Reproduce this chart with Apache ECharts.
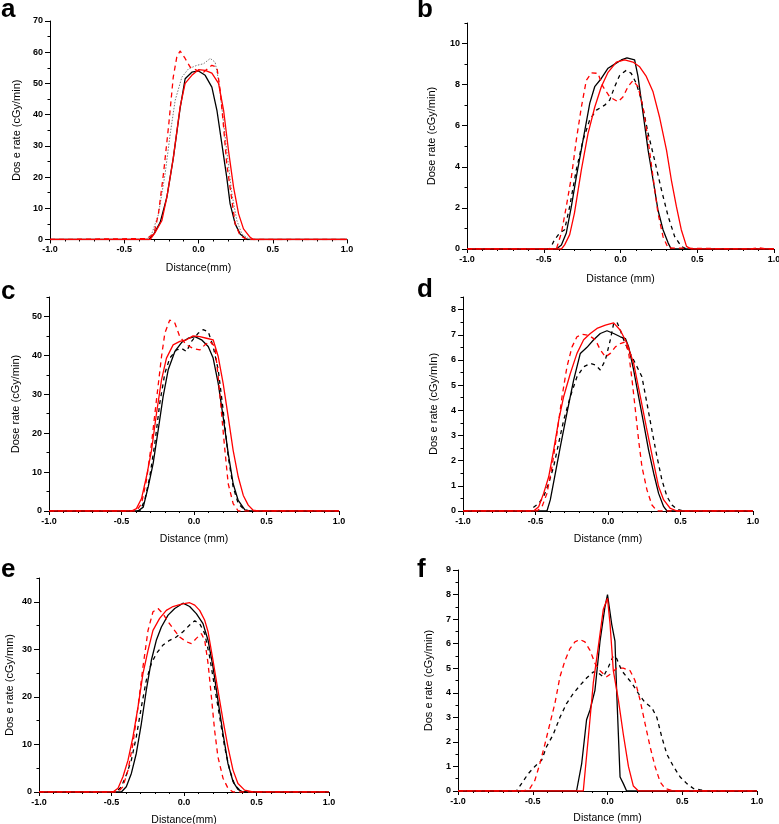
<!DOCTYPE html>
<html>
<head>
<meta charset="utf-8">
<title>Dose rate profiles</title>
<script src="https://cdn.jsdelivr.net/npm/echarts@6/dist/echarts.min.js"></script>
<style>
  html, body { margin: 0; padding: 0; background: #fff; }
  #chart { width: 779px; height: 824px; }
</style>
</head>
<body>
<div id="chart"></div>
<script>
// panel texts
var panelNames = ['a', 'b', 'c', 'd', 'e', 'f']
var xTitles = ['Distance(mm)', 'Distance (mm)', 'Distance (mm)', 'Distance (mm)', 'Distance(mm)', 'Distance (mm)']
var yTitles = ['Dos e rate (cGy/min)', 'Dose rate (cGy/min)', 'Dose rate (cGy/min)', 'Dos e rate (cGy/mIn)', 'Dos e rate (cGy/mm)', 'Dos e rate (cGy/min)']

// y axis ranges and tick steps
var yMaxes = [70, 11, 55, 8.5, 45, 9]
var yMajorSteps = [10, 2, 10, 1, 10, 1]
var yMinorSteps = [5, 1, 5, 0.5, 5, 0.5]

// x axis: -1.0 .. 1.0
var xMin = -1
var xMax = 1
var xMajorStep = 0.5

// ---- panel a ----
var aBlack = [[-1,0],[-0.333,0],[-0.3,1.8],[-0.258,5.5],[-0.213,13.6],[-0.17,26],[-0.124,42],[-0.09,51.5],[-0.045,53.6],[0,54],[0.045,52.6],[0.09,48.8],[0.124,41.4],[0.157,30.7],[0.19,20],[0.213,11.4],[0.247,5],[0.28,1.8],[0.326,0],[1,0]]
var aGrey = [[-1,0],[-0.35,0],[-0.315,1.8],[-0.27,8],[-0.225,21],[-0.19,34],[-0.157,44.6],[-0.112,52],[-0.067,54.7],[-0.011,55.8],[0.034,56.3],[0.079,58],[0.112,56.8],[0.135,51],[0.157,42.4],[0.19,28.5],[0.225,14.6],[0.258,6.1],[0.292,1.8],[0.337,0.2],[0.36,0],[1,0]]
var aRed = [[-1,0],[-0.326,0],[-0.29,2.4],[-0.247,6],[-0.213,13.6],[-0.17,26],[-0.124,42.4],[-0.09,50],[-0.045,52.6],[0,54.4],[0.045,54.2],[0.09,53.3],[0.135,50],[0.169,41.4],[0.202,28.5],[0.236,16.8],[0.27,8.2],[0.303,3.4],[0.348,0.7],[0.37,0],[1,0]]
var aRedDash = [[-1,0],[-0.348,0.3],[-0.3,1.8],[-0.27,8.2],[-0.236,21],[-0.2,37],[-0.17,52],[-0.146,58.5],[-0.124,60.4],[-0.09,58],[-0.056,55.2],[-0.011,54.2],[0.034,53.6],[0.09,55.8],[0.124,55.2],[0.146,47.8],[0.169,36],[0.19,24.3],[0.225,12.5],[0.247,5],[0.28,1.3],[0.326,0],[1,0]]

// ---- panel b ----
var bBlack = [[-1,0],[-0.418,0],[-0.385,0.2],[-0.353,0.78],[-0.32,2.07],[-0.288,3.5],[-0.244,5.3],[-0.2,7.1],[-0.168,7.9],[-0.125,8.3],[-0.081,8.8],[-0.038,9.0],[0.005,9.2],[0.042,9.3],[0.092,9.2],[0.114,8.4],[0.147,6.6],[0.18,4.8],[0.212,3.37],[0.244,1.9],[0.277,0.94],[0.31,0.3],[0.33,0],[1,0]]
var bBlackDash = [[-1,0],[-0.46,0],[-0.43,0.45],[-0.396,0.78],[-0.364,0.94],[-0.331,2.07],[-0.288,3.85],[-0.244,5.3],[-0.2,6.3],[-0.157,6.76],[-0.103,7.0],[-0.07,7.25],[-0.038,7.9],[-0.005,8.46],[0.038,8.7],[0.07,8.55],[0.103,8.06],[0.136,7.25],[0.18,5.63],[0.223,4.3],[0.266,2.9],[0.31,1.6],[0.353,0.6],[0.396,0.13],[0.43,0],[1,0]]
var bRed = [[-1,0],[-0.385,0],[-0.364,0.2],[-0.331,0.7],[-0.3,1.75],[-0.255,3.85],[-0.212,5.6],[-0.168,6.9],[-0.125,7.9],[-0.081,8.6],[-0.027,9.1],[0.027,9.2],[0.081,9.1],[0.125,8.87],[0.168,8.4],[0.212,7.65],[0.255,6.4],[0.3,4.8],[0.331,3.37],[0.364,2.07],[0.396,0.94],[0.43,0.13],[0.46,0],[1,0]]
var bRedDash = [[-1,0],[-0.418,0],[-0.385,0.78],[-0.353,2.07],[-0.32,3.5],[-0.288,5.3],[-0.255,6.9],[-0.223,8.2],[-0.19,8.57],[-0.147,8.55],[-0.114,7.9],[-0.07,7.4],[-0.016,7.17],[0.016,7.4],[0.049,7.9],[0.081,8.2],[0.114,7.9],[0.147,6.9],[0.18,5.3],[0.212,3.5],[0.244,1.75],[0.277,0.6],[0.31,0.05],[0.85,0],[0.9,0.06],[0.95,0],[1,0]]

// ---- panel c ----
var cBlack = [[-1,0],[-0.386,0],[-0.35,1],[-0.316,6.2],[-0.282,12.2],[-0.247,20.8],[-0.213,29.4],[-0.178,36.3],[-0.132,41],[-0.086,43.3],[-0.04,44.4],[0.006,44.8],[0.052,44],[0.098,42.3],[0.132,39.3],[0.167,32.8],[0.201,24.2],[0.236,14.8],[0.27,7],[0.305,2.7],[0.351,0.3],[0.385,0],[1,0]]
var cBlackDash = [[-1,0],[-0.374,0],[-0.34,2.7],[-0.305,8.8],[-0.27,17.4],[-0.236,27.7],[-0.201,35.4],[-0.167,39.3],[-0.121,41.4],[-0.086,41.8],[-0.052,41],[-0.017,43.6],[0.029,45.7],[0.063,46.6],[0.098,46.1],[0.132,42.3],[0.167,36.3],[0.201,26],[0.236,13.9],[0.27,6.2],[0.305,1.9],[0.351,0.2],[0.385,0],[1,0]]
var cRed = [[-1,0],[-0.431,0],[-0.397,0.6],[-0.362,3.2],[-0.328,8.8],[-0.293,15.6],[-0.259,25],[-0.224,33.7],[-0.19,39.3],[-0.144,42.7],[-0.098,43.6],[-0.052,44],[-0.006,45],[0.04,44.8],[0.086,44.4],[0.132,44],[0.167,39.7],[0.201,32.8],[0.236,24.2],[0.27,15.6],[0.305,8.8],[0.34,4],[0.374,1.5],[0.408,0.2],[0.443,0],[1,0]]
var cRedDash = [[-1,0],[-0.397,0],[-0.362,1.9],[-0.328,7.9],[-0.293,17.4],[-0.259,28.5],[-0.224,39.7],[-0.201,45.7],[-0.167,49.1],[-0.132,48.3],[-0.098,44.8],[-0.052,42.7],[-0.006,41.8],[0.04,41.4],[0.075,42.7],[0.109,43.6],[0.144,42.3],[0.167,34.5],[0.19,25],[0.213,15.6],[0.236,7],[0.27,1.9],[0.305,0],[1,0]]

// ---- panel d ----
var dBlack = [[-1,0],[-0.421,0],[-0.398,0.44],[-0.363,1.5],[-0.329,2.55],[-0.283,3.9],[-0.237,5.2],[-0.191,6.26],[-0.145,6.5],[-0.099,6.8],[-0.053,7.05],[-0.007,7.16],[0.039,7.05],[0.085,6.92],[0.12,6.85],[0.143,6.5],[0.177,5.6],[0.211,4.54],[0.246,3.48],[0.28,2.42],[0.315,1.5],[0.349,0.7],[0.384,0.17],[0.407,0],[1,0]]
var dBlackDash = [[-1,0],[-0.536,0],[-0.513,0.15],[-0.478,0.3],[-0.444,0.57],[-0.409,1.1],[-0.375,1.76],[-0.34,2.7],[-0.306,3.6],[-0.26,4.54],[-0.214,5.33],[-0.168,5.73],[-0.122,5.86],[-0.087,5.8],[-0.053,5.6],[-0.018,6],[0.016,6.8],[0.039,7.45],[0.062,7.5],[0.085,7.18],[0.108,6.8],[0.131,6.5],[0.166,6.12],[0.2,5.73],[0.234,5.33],[0.269,4.27],[0.303,3.2],[0.338,2.15],[0.372,1.23],[0.407,0.57],[0.441,0.24],[0.476,0.07],[0.52,0],[1,0]]
var dRed = [[-1,0],[-0.513,0],[-0.478,0.17],[-0.444,0.7],[-0.409,1.36],[-0.375,2.42],[-0.34,3.6],[-0.306,4.54],[-0.26,5.46],[-0.214,6.26],[-0.168,6.8],[-0.122,7.05],[-0.076,7.25],[-0.018,7.38],[0.039,7.47],[0.085,7.18],[0.131,6.65],[0.177,5.86],[0.223,4.54],[0.269,3.2],[0.315,1.9],[0.349,0.97],[0.384,0.44],[0.43,0.1],[0.476,0],[1,0]]
var dRedDash = [[-1,0],[-0.49,0],[-0.455,0.17],[-0.421,0.7],[-0.386,1.76],[-0.352,3.08],[-0.317,4.54],[-0.283,5.73],[-0.248,6.52],[-0.214,6.92],[-0.179,7.02],[-0.133,6.98],[-0.087,6.8],[-0.053,6.4],[-0.018,6.12],[0.016,6.26],[0.051,6.52],[0.085,6.65],[0.12,6.72],[0.143,6.26],[0.166,5.2],[0.189,4],[0.211,2.82],[0.234,1.76],[0.269,0.83],[0.303,0.24],[0.338,0],[1,0]]

// ---- panel e ----
var eBlack = [[-1,0],[-0.432,0],[-0.398,1.1],[-0.363,3.9],[-0.329,8.1],[-0.294,14.4],[-0.26,21.4],[-0.225,27.7],[-0.191,31.9],[-0.156,34.7],[-0.11,37.2],[-0.064,38.6],[-0.007,39.7],[0.039,39],[0.085,37.5],[0.131,35.4],[0.166,31.9],[0.2,26.3],[0.234,19.3],[0.269,12.3],[0.303,6],[0.338,2.2],[0.372,0.56],[0.407,0],[1,0]]
var eBlackDash = [[-1,0],[-0.467,0],[-0.432,1.1],[-0.398,3.6],[-0.363,6.7],[-0.329,11.6],[-0.294,17.9],[-0.26,23.5],[-0.225,27],[-0.191,29.1],[-0.145,30.9],[-0.099,31.9],[-0.053,32.6],[-0.007,33.7],[0.039,35.1],[0.074,36],[0.108,35.4],[0.143,33.3],[0.177,28.4],[0.211,22.1],[0.246,15.8],[0.28,9.5],[0.315,4.6],[0.349,1.5],[0.384,0.4],[0.418,0],[1,0]]
var eRed = [[-1,0],[-0.49,0],[-0.455,0.8],[-0.421,3.2],[-0.386,6.7],[-0.352,11.6],[-0.317,17.9],[-0.283,24.9],[-0.248,29.8],[-0.214,34],[-0.168,36.5],[-0.122,38.2],[-0.076,39],[-0.018,39.5],[0.039,39.8],[0.074,39.3],[0.108,38.2],[0.143,36.1],[0.166,33.7],[0.2,27.7],[0.234,21.4],[0.269,15.1],[0.303,9.5],[0.338,4.6],[0.372,1.8],[0.418,0.4],[0.476,0],[1,0]]
var eRedDash = [[-1,0],[-0.455,0],[-0.421,1.1],[-0.386,4.6],[-0.352,10.2],[-0.317,17.9],[-0.283,26.3],[-0.248,34],[-0.214,37.9],[-0.179,38.6],[-0.145,37.5],[-0.11,35.8],[-0.076,34.4],[-0.03,32.6],[0.016,31.6],[0.051,31.2],[0.085,32.3],[0.12,33.3],[0.143,31.9],[0.166,27],[0.189,20],[0.211,13],[0.234,7.4],[0.269,2.9],[0.303,0.8],[0.338,0],[1,0]]

// ---- panel f ----
var fBlack = [[-1,0],[-0.207,0],[-0.173,1.1],[-0.14,2.9],[-0.117,3.3],[-0.084,4.1],[-0.05,6.1],[-0.017,7.5],[0,8.0],[0.028,6.8],[0.05,6.1],[0.061,4.1],[0.084,0.57],[0.106,0.3],[0.128,0],[1,0]]
var fBlackDash = [[-1,0],[-0.609,0],[-0.575,0.3],[-0.531,0.7],[-0.486,1],[-0.441,1.25],[-0.408,1.8],[-0.363,2.3],[-0.318,3],[-0.274,3.56],[-0.229,3.97],[-0.184,4.3],[-0.14,4.6],[-0.095,4.85],[-0.061,4.8],[-0.028,4.65],[0.006,5.05],[0.039,5.5],[0.061,5.4],[0.095,4.9],[0.128,4.65],[0.162,4.4],[0.207,3.97],[0.251,3.6],[0.296,3.4],[0.33,3],[0.363,2.2],[0.397,1.5],[0.441,1],[0.486,0.57],[0.531,0.3],[0.575,0.1],[0.62,0.05],[0.665,0],[1,0]]
var fRed = [[-1,0],[-0.162,0],[-0.128,2.2],[-0.095,4.4],[-0.061,5.9],[-0.028,7.4],[0,7.85],[0.017,6.8],[0.039,4.9],[0.073,3.7],[0.106,2.3],[0.14,1],[0.173,0.2],[0.207,0],[1,0]]
var fRedDash = [[-1,0],[-0.564,0],[-0.52,0.1],[-0.486,0.43],[-0.453,1.1],[-0.419,1.9],[-0.385,2.75],[-0.352,3.56],[-0.318,4.65],[-0.285,5.3],[-0.251,5.8],[-0.218,6.07],[-0.184,6.17],[-0.151,6.07],[-0.117,5.73],[-0.084,5.2],[-0.05,4.9],[-0.006,4.65],[0.028,4.8],[0.061,5],[0.106,5],[0.151,4.9],[0.184,4.5],[0.218,3.7],[0.251,2.75],[0.285,1.8],[0.318,1],[0.352,0.37],[0.386,0.1],[0.441,0],[1,0]]

var panelCurves = [
  [aBlack, aGrey, aRed, aRedDash],
  [bBlack, bBlackDash, bRed, bRedDash],
  [cBlack, cBlackDash, cRed, cRedDash],
  [dBlack, dBlackDash, dRed, dRedDash],
  [eBlack, eBlackDash, eRed, eRedDash],
  [fBlack, fBlackDash, fRed, fRedDash]
]

// layout (pixels)
var grids = [
  { left: 50, top: 21, width: 297, height: 218.5 },
  { left: 467, top: 23, width: 307, height: 226 },
  { left: 49, top: 297, width: 290, height: 214 },
  { left: 463, top: 297, width: 290, height: 214 },
  { left: 39, top: 578, width: 290, height: 214 },
  { left: 458, top: 570, width: 299, height: 221 }
]
var letterPos = [[1, -3], [417, -3], [1, 279], [417, 277], [1, 557], [417, 557]]
var xNameGaps = [23, 25, 23, 23, 23, 22]
var yNameGaps = [28, 30, 28, 24, 24, 24]

var FONT = 'Liberation Sans'
var styles = [
  { color: '#000000', type: 'solid', width: 1.3 },
  { color: '#000000', type: [4, 4], width: 1.3 },
  { color: '#ff0000', type: 'solid', width: 1.3 },
  { color: '#ff0000', type: [5, 4], width: 1.3 }
]
var greyDotted = { color: '#777777', type: [1.5, 1.5], width: 1 }

var chart = echarts.init(document.getElementById('chart'), null, { renderer: 'canvas' })

var option = {
  animation: false,
  backgroundColor: '#ffffff',
  title: [],
  grid: [],
  xAxis: [],
  yAxis: [],
  series: []
}

for (var i = 0; i < 6; i++) {
  var g = grids[i]
  option.grid.push({
    left: g.left, top: g.top, width: g.width, height: g.height,
    containLabel: false, outerBoundsMode: 'none'
  })
  option.title.push({
    text: panelNames[i],
    left: letterPos[i][0], top: letterPos[i][1],
    padding: 0,
    textStyle: { fontFamily: FONT, fontSize: 26, fontWeight: 'bold', color: '#000' }
  })
  option.xAxis.push({
    type: 'value', gridIndex: i,
    min: xMin, max: xMax, interval: xMajorStep,
    name: xTitles[i], nameLocation: 'middle', nameGap: xNameGaps[i],
    nameTextStyle: { fontFamily: FONT, fontSize: 10.5, color: '#000' },
    axisLine: { show: true, onZero: false, lineStyle: { color: '#000', width: 1 } },
    axisTick: { show: true, length: 4, lineStyle: { color: '#000' } },
    minorTick: { show: true, splitNumber: 5, length: 2, lineStyle: { color: '#000' } },
    axisLabel: {
      fontFamily: FONT, fontSize: 9, fontWeight: 'bold', color: '#000', margin: 6,
      formatter: function (v) { return v.toFixed(1) }
    },
    splitLine: { show: false }
  })
  var majors = []
  for (var v = 0; v <= yMaxes[i] + 1e-9; v += yMajorSteps[i]) majors.push(v)
  // axis the curves live on: line + short (minor) ticks
  option.yAxis.push({
    type: 'value', gridIndex: i, position: 'left',
    min: 0, max: yMaxes[i], interval: yMinorSteps[i],
    axisLine: { show: true, onZero: false, lineStyle: { color: '#000', width: 1 } },
    axisTick: { show: true, length: 2.5, lineStyle: { color: '#000' } },
    axisLabel: { show: false },
    splitLine: { show: false }
  })
  // overlay axis: major ticks, labels and title
  option.yAxis.push({
    type: 'value', gridIndex: i, position: 'left', offset: 0,
    min: 0, max: yMaxes[i], interval: yMinorSteps[i],
    name: yTitles[i], nameLocation: 'middle', nameGap: yNameGaps[i],
    nameTextStyle: { fontFamily: FONT, fontSize: 11, color: '#000' },
    axisLine: { show: false, onZero: false },
    axisTick: { show: true, length: 5, customValues: majors, lineStyle: { color: '#000' } },
    axisLabel: {
      customValues: majors,
      fontFamily: FONT, fontSize: 9, fontWeight: 'bold', color: '#000', margin: 7
    },
    splitLine: { show: false }
  })
  var curves = panelCurves[i]
  for (var k = 0; k < curves.length; k++) {
    var ls = (i === 0 && k === 1) ? greyDotted : styles[k]
    option.series.push({
      type: 'line',
      xAxisIndex: i,
      yAxisIndex: 2 * i,
      data: curves[k],
      showSymbol: false,
      symbol: 'none',
      lineStyle: { color: ls.color, type: ls.type, width: ls.width },
      z: 2 + k
    })
  }
}

chart.setOption(option)
</script>
</body>
</html>
